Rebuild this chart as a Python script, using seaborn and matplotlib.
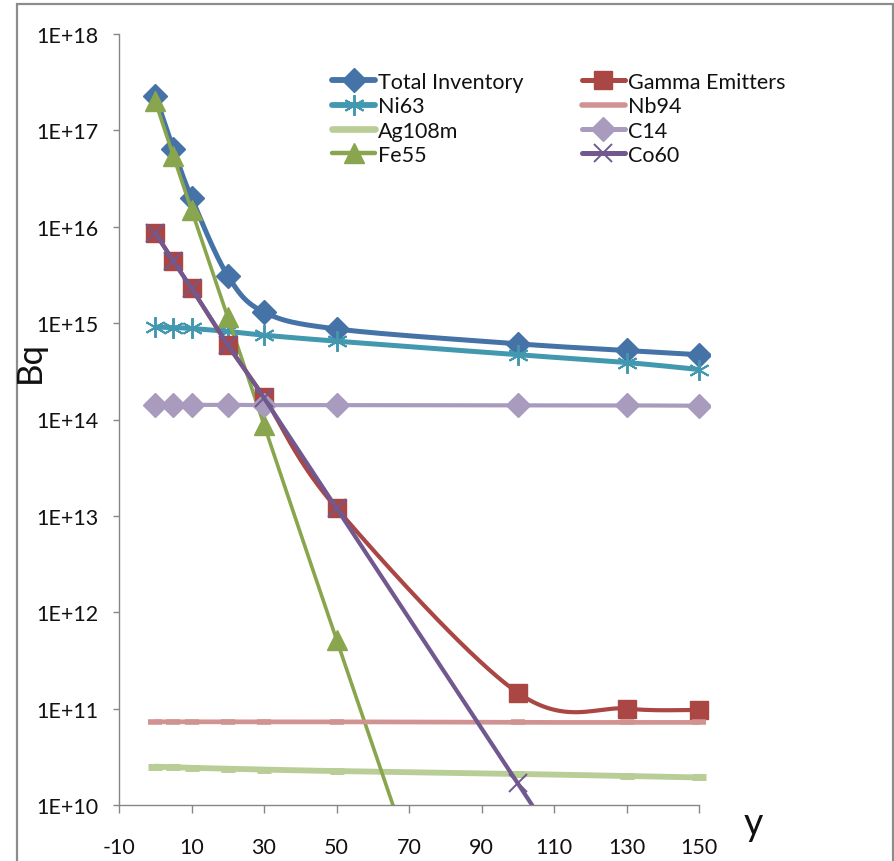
import numpy as np
import matplotlib
matplotlib.use("Agg")
import matplotlib.pyplot as plt
from matplotlib.lines import Line2D
from matplotlib.patches import Rectangle
from matplotlib.ticker import FixedLocator, FuncFormatter, NullLocator
import seaborn as sns

# values (Bq), at the decay times in years
years = [0, 5, 10, 20, 30, 50, 100, 130, 150]

total_inventory = [2.3e17, 6.4e16, 2.0e16, 3.1e15, 1.3e15, 8.7e14, 6.1e14, 5.2e14, 4.7e14]
gamma_emitters = [8.6e15, 4.4e15, 2.3e15, 5.9e14, 1.7e14, 1.2e13, 1.46e11, 1.0e11, 9.7e10]
ni63 = [9.1e14, 9.0e14, 8.8e14, 8.2e14, 7.5e14, 6.5e14, 4.7e14, 3.9e14, 3.3e14]
nb94 = [7.3e10, 7.3e10, 7.3e10, 7.3e10, 7.3e10, 7.3e10, 7.2e10, 7.2e10, 7.2e10]
ag108m = [2.5e10, 2.47e10, 2.43e10, 2.38e10, 2.33e10, 2.25e10, 2.1e10, 2.0e10, 1.93e10]
c14 = [1.42e14, 1.42e14, 1.42e14, 1.42e14, 1.41e14, 1.41e14, 1.40e14, 1.40e14, 1.39e14]
fe55 = [2.0e17, 5.4e16, 1.5e16, 1.16e15, 8.8e13, 5.2e11, 1.6e6, 8.0e2, 5.0]
co60 = [8.6e15, 4.4e15, 2.3e15, 6.0e14, 1.67e14, 1.2e13, 1.68e10, 3.2e8, 2.3e7]

decades = [1e10, 1e11, 1e12, 1e13, 1e14, 1e15, 1e16, 1e17, 1e18]
xticks = [-10, 10, 30, 50, 70, 90, 110, 130, 150]

asterisk = (6, 2, 0)
# label, values, color, marker, markersize, linewidth, marker edge width
series = [
    ("Total Inventory", total_inventory, "#4572A7", "D", 12.5, 3.6, 1),
    ("Ni63", ni63, "#4198AF", asterisk, 15, 3.6, 1.4),
    ("Ag108m", ag108m, "#B9CD96", "_", 10, 4.2, 5),
    ("Fe55", fe55, "#89A54E", "^", 14, 2.6, 1),
    ("Gamma Emitters", gamma_emitters, "#AA4643", "s", 12.5, 3.0, 1),
    ("Nb94", nb94, "#D19392", "_", 10, 3.4, 4),
    ("C14", c14, "#A99BBD", "D", 12.5, 3.0, 1),
    ("Co60", co60, "#71588F", "x", 12.5, 3.0, 1.4),
]


def smooth(xs, ys, n=40):
    # Excel-style smoothed line (Catmull-Rom Bezier) in x / log10(y)
    p = np.column_stack([xs, np.log10(ys)])
    ext = np.vstack([p[0], p, p[-1]])
    parts = []
    t = np.linspace(0, 1, n)[:, None]
    for i in range(len(p) - 1):
        p0, p1, p2, p3 = ext[i], ext[i + 1], ext[i + 2], ext[i + 3]
        b1 = p1 + (p2 - p0) / 6
        b2 = p2 - (p3 - p1) / 6
        seg = (1 - t) ** 3 * p1 + 3 * (1 - t) ** 2 * t * b1 + 3 * (1 - t) * t ** 2 * b2 + t ** 3 * p2
        parts.append(seg if i == 0 else seg[1:])
    c = np.vstack(parts)
    return c[:, 0], 10 ** c[:, 1]


sns.set_style("white")
plt.rcParams["font.family"] = ["Lato", "DejaVu Sans"]
plt.rcParams["axes.unicode_minus"] = False

fig = plt.figure(figsize=(8.95, 8.62), dpi=100)
ax = fig.add_axes([119 / 895, 1 - 806 / 862, (710 - 119) / 895, (806 - 35) / 862])
ax.set_yscale("log")

handles = []
for label, vals, color, marker, ms, lw, mew in series:
    sx, sy = smooth(years, vals)
    sns.lineplot(x=sx, y=sy, ax=ax, color=color, lw=lw, sort=False,
                 estimator=None, legend=False)
    filled = marker not in ("x", "_", asterisk)
    ax.plot(years, vals, ls="none", marker=marker, ms=ms, color=color,
            mec=color, mfc=color if filled else "none", mew=mew)
    handles.append(Line2D([], [], color=color, lw=lw + 0.6, marker=None if marker == "_" else marker,
                          ms=ms, mec=color, mfc=color if filled else "none", mew=mew, label=label))

ax.set_xlim(-10, 153)
ax.set_ylim(1e10, 1e18)
ax.xaxis.set_major_locator(FixedLocator(xticks))
ax.yaxis.set_major_locator(FixedLocator(decades))
ax.yaxis.set_minor_locator(NullLocator())
ax.yaxis.set_major_formatter(FuncFormatter(lambda v, pos: "1E+%d" % round(np.log10(v))))

for side in ("top", "right"):
    ax.spines[side].set_visible(False)
for side in ("left", "bottom"):
    ax.spines[side].set_color("#868686")
    ax.spines[side].set_linewidth(1)
ax.spines["bottom"].set_bounds(-10, 150)

ax.tick_params(axis="y", direction="out", length=4.5, width=1, color="#868686",
               labelsize=15.5, pad=10, left=True, labelcolor="#111111")
ax.tick_params(axis="x", direction="out", length=6, width=1, color="#868686",
               labelsize=15.5, pad=17, bottom=True, labelcolor="#111111")

fig.text(30 / 895, 1 - 362 / 862, "Bq", rotation=90, ha="center", va="center",
         fontsize=25, color="#111111")
fig.text(753 / 895, 1 - 824 / 862, "y", ha="center", va="center",
         fontsize=27, color="#111111")

ax.legend(handles=handles, ncol=2, loc="upper left", frameon=False,
          bbox_to_anchor=(332 / 895, 1 - 73 / 862), bbox_transform=fig.transFigure,
          fontsize=15.5, handlelength=2.0, handletextpad=0.15, columnspacing=2.7,
          labelspacing=0.2, borderpad=0, borderaxespad=0, labelcolor="#111111")

fig.patches.append(Rectangle((17 / 895, -0.02), (893 - 17) / 895, 1.02 - 5 / 862,
                             transform=fig.transFigure, fill=False,
                             edgecolor="#8c8c8c", lw=1.6))

fig.savefig("out.png", dpi=100)
